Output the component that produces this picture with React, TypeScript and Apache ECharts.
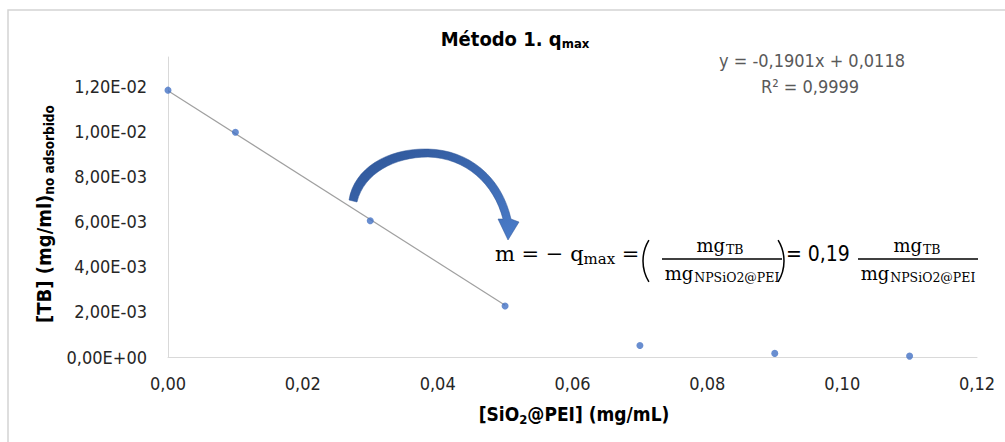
import React, { useEffect, useRef } from "react";
import * as echarts from "echarts";

// ---- data ----
const xValues: number[] = [0, 0.01, 0.03, 0.05, 0.07, 0.09, 0.11];
const yValues: number[] = [0.01183, 0.00996, 0.00604, 0.00226, 0.00051, 0.00016, 0.00004];
const trendSlope = -0.1901;
const trendIntercept = 0.0118;
const trendX: number[] = [0, 0.05];
const xTickStep = 0.02;
const yTickStep = 0.002;
const titleMain = "Método 1. q";
const titleSub = "max";
const eqLine1 = "y = -0,1901x + 0,0118";
const eqLine2 = "R² = 0,9999";

const SANS = "'Liberation Sans Narrow', 'DejaVu Sans Condensed', 'Open Sans', sans-serif";
const SERIF = "'DejaVu Serif', 'Liberation Serif', serif";

const fmtY = (v: number) => {
  const [m, e] = v.toExponential(2).split("e");
  const ex = parseInt(e, 10);
  return m.replace(".", ",") + "E" + (ex < 0 ? "-" : "+") + String(Math.abs(ex)).padStart(2, "0");
};
const fmtX = (v: number) => v.toFixed(2).replace(".", ",");

const arrowD =
  "M 349 200 C 354 168 388 148 428 149 C 470 150 502 178 511 219 L 519 222 L 508 240 L 498 219 L 503 219 C 494 184 466 158 428 157 C 395 157 364 173 357 202 Z";

echarts.graphic.registerShape("curvedArrow", echarts.graphic.extendPath(arrowD, {}) as any);

export default function App() {
  const ref = useRef<HTMLDivElement>(null);
  useEffect(() => {
    document.body.style.margin = "0";
    if (!ref.current) return;
    const chart = echarts.init(ref.current, undefined, { renderer: "svg" });
    const scatterData = xValues.map((x, i) => [x, yValues[i]]);
    const trendData = trendX.map((x) => [x, trendSlope * x + trendIntercept]);

    const mgFrac = (cx: number, sub: string, top: boolean) => ({
      type: "text",
      x: cx,
      y: top ? 245 : 273,
      silent: true,
      style: {
        text: `{a|mg}{b|${sub}}`,
        textAlign: "center",
        textVerticalAlign: "middle",
        fill: "#000",
        rich: {
          a: { fontFamily: SERIF, fontSize: 18, fill: "#000" },
          b: { fontFamily: SERIF, fontSize: 12.5, fill: "#000", padding: [8, 0, 0, 1] },
        },
      },
    });

    chart.setOption({
      animation: false,
      grid: { left: 168, right: 28, top: 57, bottom: 85, containLabel: false },
      xAxis: {
        type: "value",
        min: 0,
        max: 0.12,
        interval: xTickStep,
        axisLine: { show: true, lineStyle: { color: "#d9d9d9", width: 1 } },
        axisTick: { show: false },
        splitLine: { show: false },
        axisLabel: { formatter: fmtX, color: "#262626", fontFamily: SANS, fontSize: 18, margin: 17 },
      },
      yAxis: {
        type: "value",
        min: 0,
        max: 0.0133,
        interval: yTickStep,
        axisLine: { show: true, lineStyle: { color: "#d9d9d9", width: 1 } },
        axisTick: { show: false },
        splitLine: { show: false },
        axisLabel: {
          formatter: (v: number) => (v > 0.0125 ? "" : fmtY(v)),
          showMaxLabel: false,
          color: "#262626",
          fontFamily: SANS,
          fontSize: 18,
          margin: 21,
        },
      },
      series: [
        {
          type: "line",
          data: trendData,
          symbol: "none",
          lineStyle: { color: "#a0a0a0", width: 1.2 },
          z: 1,
          silent: true,
        },
        {
          type: "scatter",
          data: scatterData,
          symbolSize: 7,
          itemStyle: { color: "#4472C4" },
          z: 3,
        },
      ],
      graphic: [
        {
          type: "rect",
          silent: true,
          shape: { x: 8, y: 10, width: 1200, height: 600 },
          style: { fill: "none", stroke: "#d4d4d4", lineWidth: 1.5 },
        },
        {
          type: "text",
          x: 515,
          y: 39,
          silent: true,
          style: {
            text: `{a|${titleMain}}{b|${titleSub}}`,
            textAlign: "center",
            textVerticalAlign: "middle",
            rich: {
              a: { fontFamily: SANS, fontSize: 20, fontWeight: "bold", fill: "#000" },
              b: { fontFamily: SANS, fontSize: 13, fontWeight: "bold", fill: "#000", padding: [9, 0, 0, 0] },
            },
          },
        },
        {
          type: "text",
          x: 812,
          y: 60,
          silent: true,
          style: {
            text: eqLine1,
            textAlign: "center",
            textVerticalAlign: "middle",
            fontFamily: SANS,
            fontSize: 18,
            fill: "#595959",
          },
        },
        {
          type: "text",
          x: 810,
          y: 86,
          silent: true,
          style: {
            text: eqLine2,
            textAlign: "center",
            textVerticalAlign: "middle",
            fontFamily: SANS,
            fontSize: 18,
            fill: "#595959",
          },
        },
        {
          type: "text",
          x: 44,
          y: 214,
          rotation: Math.PI / 2,
          silent: true,
          style: {
            text: "{a|[TB] (mg/ml)}{b|no adsorbido}",
            textAlign: "center",
            textVerticalAlign: "middle",
            rich: {
              a: { fontFamily: SANS, fontSize: 20, fontWeight: "bold", fill: "#000" },
              b: { fontFamily: SANS, fontSize: 13.5, fontWeight: "bold", fill: "#000", padding: [10, 0, 0, 0] },
            },
          },
        },
        {
          type: "text",
          x: 574,
          y: 414,
          silent: true,
          style: {
            text: "{a|[SiO}{b|2}{a|@PEI] (mg/mL)}",
            textAlign: "center",
            textVerticalAlign: "middle",
            rich: {
              a: { fontFamily: SANS, fontSize: 19, fontWeight: "bold", fill: "#000" },
              b: { fontFamily: SANS, fontSize: 13, fontWeight: "bold", fill: "#000", padding: [10, 0, 0, 0] },
            },
          },
        },
        {
          type: "curvedArrow",
          x: 0,
          y: 0,
          silent: true,
          style: {
            fill: {
              type: "linear",
              x: 0,
              y: 0,
              x2: 1,
              y2: 1,
              colorStops: [
                { offset: 0, color: "#2E5597" },
                { offset: 1, color: "#4A7CC9" },
              ],
            },
            stroke: "#2F5597",
            lineWidth: 0.5,
          },
        },
        {
          type: "text",
          x: 495,
          y: 254,
          silent: true,
          style: {
            text: "{a|m = − q}{b|max}{a| =}",
            textAlign: "left",
            textVerticalAlign: "middle",
            rich: {
              a: { fontFamily: SERIF, fontSize: 21, fill: "#000" },
              b: { fontFamily: SERIF, fontSize: 15, fill: "#000", padding: [10, 0, 0, 0] },
            },
          },
        },
        {
          type: "arc",
          silent: true,
          shape: { cx: 683, cy: 261, r: 40, startAngle: Math.PI - 0.55, endAngle: Math.PI + 0.55 },
          style: { stroke: "#000", lineWidth: 1.5, fill: "none" },
        },
        {
          type: "arc",
          silent: true,
          shape: { cx: 744, cy: 261, r: 40, startAngle: -0.55, endAngle: 0.55 },
          style: { stroke: "#000", lineWidth: 1.5, fill: "none" },
        },
        mgFrac(720, "TB", true),
        { type: "line", silent: true, shape: { x1: 662, y1: 259, x2: 782, y2: 259 }, style: { stroke: "#000", lineWidth: 1.5 } },
        mgFrac(722, "NPSiO2@PEI", false),
        {
          type: "text",
          x: 786,
          y: 254,
          silent: true,
          style: { text: "= 0,19", textAlign: "left", textVerticalAlign: "middle", fontFamily: SANS, fontSize: 21, fill: "#000" },
        },
        mgFrac(917, "TB", true),
        { type: "line", silent: true, shape: { x1: 858, y1: 259, x2: 978, y2: 259 }, style: { stroke: "#000", lineWidth: 1.5 } },
        mgFrac(918, "NPSiO2@PEI", false),
      ],
    });
    return () => chart.dispose();
  }, []);
  return <div ref={ref} style={{ width: 1005, height: 442 }} />;
}
